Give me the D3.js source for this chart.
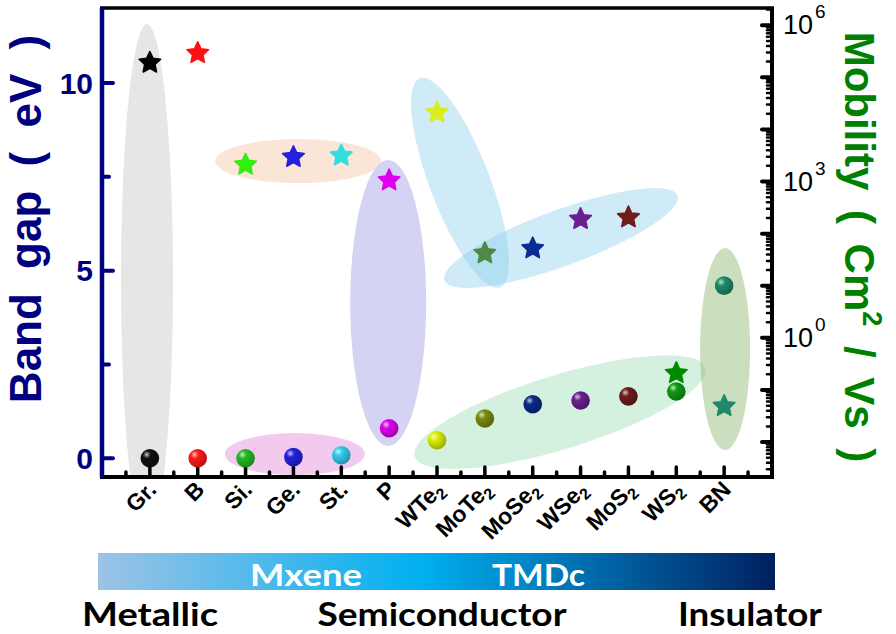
<!DOCTYPE html>
<html><head><meta charset="utf-8">
<script src="https://cdn.jsdelivr.net/npm/d3@7"></script>
<style>html,body{margin:0;padding:0;background:#fff;}svg{display:block;}</style>
</head><body><svg id="c" width="896" height="634"></svg>
<script>
// ---------- data ----------
const categories = ["Gr.","B","Si.","Ge.","St.","P","WTe2","MoTe2","MoSe2","WSe2","MoS2","WS2","BN"];
const bandGap    = [0, 0, 0, 0.03, 0.08, 0.8, 0.48, 1.06, 1.44, 1.54, 1.65, 1.78, 4.6];   // eV (spheres)
const mobility   = [1.9e5, 2.9e5, 2100, 2950, 3150, 1050, 21000, 42, 52, 190, 205, 0.21, 0.049]; // cm2/Vs (stars)
const starColors   = ["#000000","#ff1010","#33ee11","#2222dd","#33dddd","#dd00ee","#d8ee22","#4e8a46","#0a2a95","#6a2090","#6e1c1c","#008a00","#1f8a6a"];
const sphereColors = ["#111111","#ff1a1a","#22bb22","#2222dd","#33ccee","#dd00ee","#dcee00","#7a8c12","#0a2a85","#6a2090","#6e1c1c","#119911","#1f8a6a"];
const leftTicks  = [0, 5, 10];
const rightTicks = [1e0, 1e3, 1e6];
const rightTickExp = ["0","3","6"];
const scaleLabels = ["Metallic","Semiconductor","Insulator"];
const barLabels = ["Mxene","TMDc"];
// annotation ellipses: centre in data units (category index, eV), radii px, angle deg
const groups = [
  {cx:0.94, cy:4.75, rx:26, ry:256, a:0,   fill:"#e6e6e6", op:1},
  {cx:4.10, cy:7.92, rx:83, ry:22,  a:0,   fill:"#fbe5d6", op:1},
  {cx:4.03, cy:0.11, rx:70, ry:21,  a:0,   fill:"#f1caee", op:1},
  {cx:5.98, cy:4.14, rx:38, ry:143, a:0,   fill:"#d5d3f3", op:1},
  {cx:7.48, cy:7.34, rx:30, ry:112, a:-21, fill:"#87ceeb", op:0.4},
  {cx:9.59, cy:5.87, rx:124,ry:28,  a:-20, fill:"#87ceeb", op:0.4},
  {cx:9.57, cy:1.23, rx:152,ry:37,  a:-17, fill:"#a0e1b9", op:0.45},
  {cx:13.02,cy:2.91, rx:25, ry:101, a:0,   fill:"#8cb96e", op:0.45}
];

// ---------- layout ----------
const L=102, R=772, T=8, B=477;
const svg = d3.select("#c");
const x = d3.scaleLinear().domain([0,14]).range([L,R]);
const y = d3.scaleLinear().domain([-0.5,12]).range([B,T]);
const yR = d3.scaleLog().domain([Math.pow(10,-2.67), Math.pow(10,6.33)]).range([B,T]);
const navy = "#000080", green = "#008000";
const fontA = "'Liberation Sans', Arial, sans-serif";
const fontC = "Lato, 'Open Sans', sans-serif";

const defs = svg.append("defs");
defs.append("clipPath").attr("id","plot").append("rect").attr("x",L).attr("y",T).attr("width",R-L).attr("height",B-T);

sphereColors.forEach((c,i)=>{
  const g = defs.append("radialGradient").attr("id","sg"+i).attr("cx","35%").attr("cy","32%").attr("r","70%").attr("fx","33%").attr("fy","30%");
  g.append("stop").attr("offset","0%").attr("stop-color", d3.interpolateRgb(c,"#ffffff")(0.75));
  g.append("stop").attr("offset","30%").attr("stop-color", c);
  g.append("stop").attr("offset","100%").attr("stop-color", d3.color(c).darker(0.9));
});
const bg = defs.append("linearGradient").attr("id","barg").attr("x1","0%").attr("x2","100%");
bg.append("stop").attr("offset","0%").attr("stop-color","#9dc3e6");
bg.append("stop").attr("offset","48%").attr("stop-color","#00b0f0");
bg.append("stop").attr("offset","100%").attr("stop-color","#002060");

// ---------- ellipses ----------
const eg = svg.append("g").attr("clip-path","url(#plot)");
eg.selectAll("ellipse").data(groups).join("ellipse")
  .attr("transform", d=>`translate(${x(d.cx)},${y(d.cy)}) rotate(${d.a})`)
  .attr("rx", d=>d.rx).attr("ry", d=>d.ry)
  .attr("fill", d=>d.fill).attr("fill-opacity", d=>d.op);

// ---------- axes ----------
const bt = svg.append("g");
d3.range(1,14).forEach(i=>{
  bt.append("line").attr("x1",x(i)).attr("x2",x(i)).attr("y1",B).attr("y2",B-10).attr("stroke","#000").attr("stroke-width",3.5).attr("stroke-linecap","round");
});
d3.range(0.5,14,1).forEach(i=>{
  bt.append("line").attr("x1",x(i)).attr("x2",x(i)).attr("y1",B).attr("y2",B-5).attr("stroke","#000").attr("stroke-width",3.5).attr("stroke-linecap","round");
});
leftTicks.forEach(v=>{
  svg.append("line").attr("x1",L).attr("x2",L+11).attr("y1",y(v)).attr("y2",y(v)).attr("stroke",navy).attr("stroke-width",4).attr("stroke-linecap","round");
});
[2.5,7.5].forEach(v=>{
  svg.append("line").attr("x1",L).attr("x2",L+7).attr("y1",y(v)).attr("y2",y(v)).attr("stroke",navy).attr("stroke-width",4).attr("stroke-linecap","round");
});
for(let e=-3;e<=6;e++){
  for(let m=1;m<=9;m++){
    const v = m*Math.pow(10,e);
    if(v<yR.domain()[0]||v>yR.domain()[1]) continue;
    svg.append("line").attr("x1",R).attr("x2",R-(m===1?10:5)).attr("y1",yR(v)).attr("y2",yR(v))
      .attr("stroke","#000").attr("stroke-width",m===1?4:2.5).attr("stroke-linecap","round");
  }
}
svg.append("line").attr("x1",L-2).attr("x2",R+2).attr("y1",T).attr("y2",T).attr("stroke","#000").attr("stroke-width",3.5);
svg.append("line").attr("x1",L-2).attr("x2",R+2).attr("y1",B).attr("y2",B).attr("stroke","#000").attr("stroke-width",4);
svg.append("line").attr("x1",R).attr("x2",R).attr("y1",T).attr("y2",B+2).attr("stroke","#000").attr("stroke-width",4);
svg.append("line").attr("x1",L).attr("x2",L).attr("y1",T).attr("y2",B).attr("stroke",navy).attr("stroke-width",4.5);

svg.selectAll(".lt").data(leftTicks).join("text")
  .attr("x",L-9).attr("y",d=>y(d)).attr("dy","0.36em").attr("text-anchor","end")
  .attr("font-family",fontA).attr("font-weight","bold").attr("font-size",30).attr("fill",navy).text(d=>d);
rightTicks.forEach((v,i)=>{
  const t = svg.append("text").attr("x",R+11).attr("y",yR(v)+9)
    .attr("font-family",fontA).attr("font-size",27).attr("fill","#000");
  t.append("tspan").text("10");
  t.append("tspan").attr("dy",-16).attr("dx",2).attr("font-size",19).text(rightTickExp[i]);
});

// axis titles
svg.append("text").attr("transform",`translate(${41},${219}) rotate(-90)`)
  .attr("text-anchor","middle").attr("font-family",fontA).attr("font-weight","bold").attr("font-size",44)
  .attr("word-spacing",12).attr("fill",navy).text("Band gap ( eV )");
const rt = svg.append("text").attr("transform",`translate(${845},${247}) rotate(90)`)
  .attr("text-anchor","middle").attr("font-family",fontA).attr("font-weight","bold").attr("font-size",42)
  .attr("word-spacing",8).attr("fill",green);
rt.append("tspan").text("Mobility ( Cm");
rt.append("tspan").attr("dy",-18).attr("font-size",27).text("2");
rt.append("tspan").attr("dy",18).text(" / Vs )");

// x labels
const xl = svg.selectAll(".xl").data(categories).join("text")
  .attr("transform",(d,i)=>`translate(${x(i+1)+8},${491}) rotate(-45)`)
  .attr("text-anchor","end").attr("font-family",fontA).attr("font-weight","bold").attr("font-size",23).attr("fill","#000");
xl.each(function(d){
  const t = d3.select(this);
  const m = d.match(/^(.*?)(2)$/);
  if(m){ t.append("tspan").text(m[1]); t.append("tspan").attr("dy",5).attr("font-size",16).text("2"); }
  else t.text(d);
});

// ---------- markers ----------
const starType = {
  draw(ctx, size){
    const Ro = Math.sqrt(size), Ri = Ro*0.48;
    for(let k=0;k<10;k++){
      const r = k%2===0?Ro:Ri, a = -Math.PI/2 + k*Math.PI/5;
      const px = r*Math.cos(a), py = r*Math.sin(a);
      k===0?ctx.moveTo(px,py):ctx.lineTo(px,py);
    }
    ctx.closePath();
  }
};
const mk = svg.append("g");
mk.selectAll(".sph").data(bandGap).join("circle")
  .attr("cx",(d,i)=>x(i+1)).attr("cy",d=>y(d)).attr("r",9.3)
  .attr("fill",(d,i)=>`url(#sg${i})`);
mk.selectAll(".star").data(mobility).join("path")
  .attr("transform",(d,i)=>`translate(${x(i+1)},${yR(d)})`)
  .attr("d", d3.symbol().type(starType).size(128)())
  .attr("fill",(d,i)=>starColors[i]).attr("stroke",(d,i)=>starColors[i])
  .attr("stroke-width",1.6).attr("stroke-linejoin","round");

// ---------- bottom bar ----------
svg.append("rect").attr("x",98).attr("y",553).attr("width",677).attr("height",37).attr("fill","url(#barg)");
const barX = [250, 492], barW = [112, 93];
svg.selectAll(".bl").data(barLabels).join("text")
  .attr("x",(d,i)=>barX[i]).attr("y",586)
  .attr("font-family",fontC).attr("font-weight","bold").attr("font-size",31).attr("fill","#fff")
  .attr("textLength",(d,i)=>barW[i]).attr("lengthAdjust","spacingAndGlyphs").text(d=>d);
const scX = [150, 442, 750], scW = [136, 249, 144];
svg.selectAll(".sl").data(scaleLabels).join("text")
  .attr("x",(d,i)=>scX[i]-scW[i]/2).attr("y",626)
  .attr("font-family",fontC).attr("font-weight","bold").attr("font-size",33).attr("fill","#000")
  .attr("textLength",(d,i)=>scW[i]).attr("lengthAdjust","spacingAndGlyphs").text(d=>d);
</script></body></html>
